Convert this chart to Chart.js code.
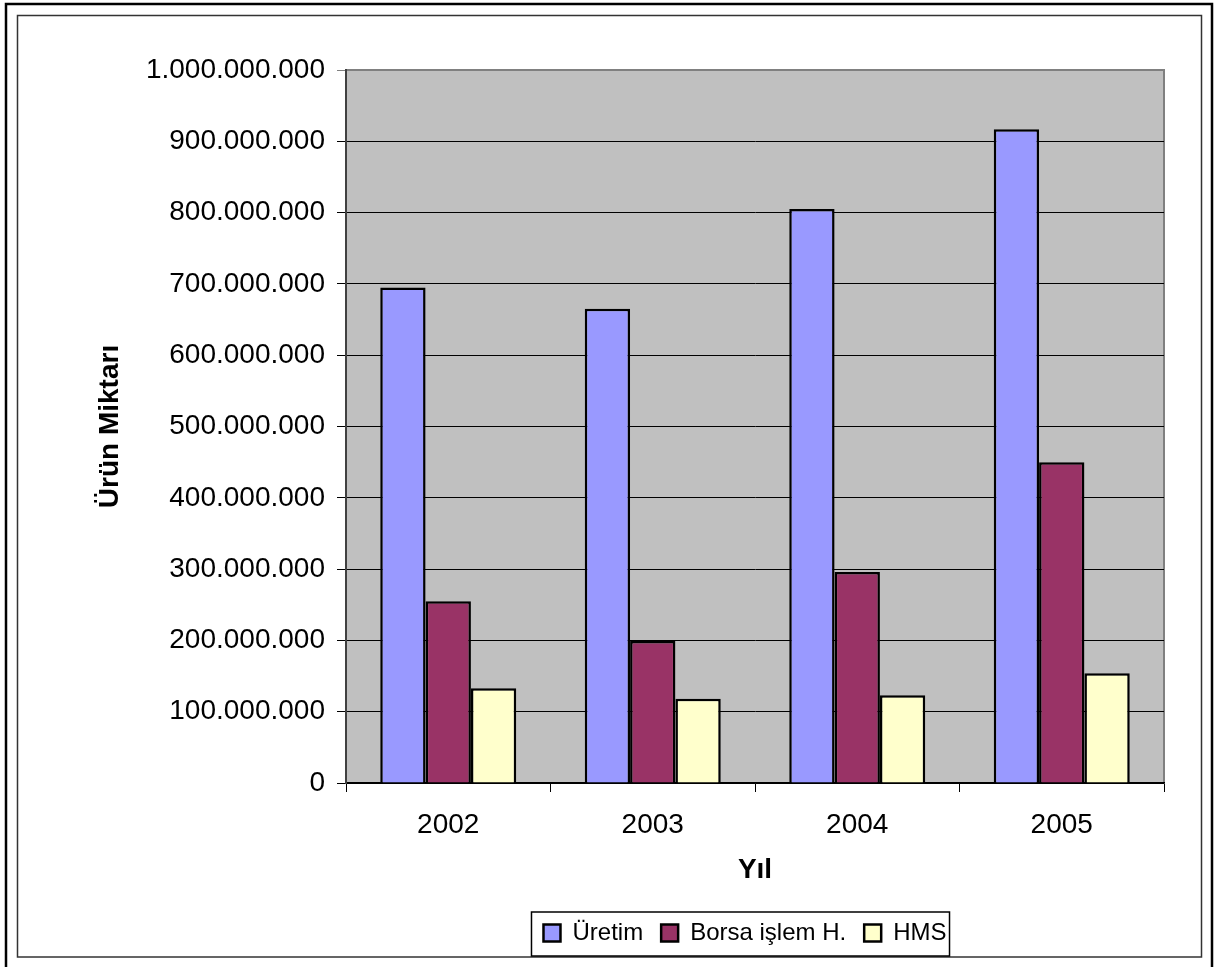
<!DOCTYPE html>
<html>
<head>
<meta charset="utf-8">
<script src="https://cdn.jsdelivr.net/npm/chart.js@4/dist/chart.umd.min.js"></script>
<style>
  html, body { margin: 0; padding: 0; background: #fff; }
  canvas { display: block; }
</style>
</head>
<body>
<canvas id="c" width="1218" height="967"></canvas>
<script>
/* Yıllara göre ürün miktarı — Üretim / Borsa işlem H. / HMS */
const years = ["2002", "2003", "2004", "2005"];
const uretim = [695000000, 665000000, 805000000, 917000000];
const borsa = [255000000, 199000000, 296000000, 450000000];
const hms = [133000000, 118000000, 123000000, 154000000];
const yMax = 1000000000;
const yStep = 100000000;

const FONT = "'Liberation Sans', Arial, sans-serif";
Chart.defaults.font.family = FONT;
Chart.defaults.color = "#000";

// 1.000.000.000 gibi nokta ile binlik ayırma
const fmt = (v) => String(Math.round(v)).replace(/\B(?=(\d{3})+(?!\d))/g, ".");

// çerçeveler, gri çizim alanı, lejant kutusu
const frame = {
  id: "frame",
  beforeDraw(chart) {
    const { ctx, chartArea: a } = chart;
    ctx.save();
    ctx.fillStyle = "#fff";
    ctx.fillRect(0, 0, chart.width, chart.height);
    ctx.strokeStyle = "#000";
    ctx.lineWidth = 2.5;
    ctx.beginPath();
    ctx.moveTo(6, chart.height); ctx.lineTo(6, 4); ctx.lineTo(1212, 4); ctx.lineTo(1212, chart.height);
    ctx.stroke();
    ctx.strokeStyle = "#333";
    ctx.lineWidth = 1.5;
    ctx.strokeRect(17.5, 15.5, 1184, 941.5);
    ctx.fillStyle = "#c0c0c0";
    ctx.fillRect(a.left, a.top, a.right - a.left, a.bottom - a.top);
    ctx.strokeStyle = "#808080";
    ctx.lineWidth = 2;
    ctx.beginPath();
    ctx.moveTo(a.left, a.top); ctx.lineTo(a.right, a.top); ctx.lineTo(a.right, a.bottom);
    ctx.stroke();
    ctx.restore();
  },
  afterLayout(chart) {
    const lg = chart.legend, a = chart.chartArea;
    lg.left = a.left - 20; lg.right = a.right;
  },
  afterDraw(chart) {
    const hb = chart.legend.legendHitBoxes;
    if (!hb || !hb.length) return;
    const first = hb[0], last = hb[hb.length - 1];
    const { ctx } = chart;
    ctx.save();
    ctx.strokeStyle = "#000";
    ctx.lineWidth = 1.5;
    const x0 = first.left - 12, x1 = last.left + last.width + 3;
    ctx.strokeRect(x0, first.top - 9, x1 - x0, 44);
    ctx.restore();
  }
};

new Chart(document.getElementById("c"), {
  type: "bar",
  data: {
    labels: years,
    datasets: [
      { label: "Üretim", data: uretim, backgroundColor: "#9999FF", borderColor: "#000", borderWidth: 2.5 },
      { label: "Borsa işlem H.", data: borsa, backgroundColor: "#993366", borderColor: "#000", borderWidth: 2.5 },
      { label: "HMS", data: hms, backgroundColor: "#FFFFCC", borderColor: "#000", borderWidth: 2.5 },
    ],
  },
  options: {
    responsive: false,
    animation: false,
    datasets: { bar: { categoryPercentage: 0.665, barPercentage: 1.0 } },
    layout: { padding: { left: 0, top: 70, right: 54, bottom: 12 } },
    plugins: {
      tooltip: { enabled: false },
      legend: {
        position: "bottom",
        labels: { boxWidth: 17, boxHeight: 17, padding: 18, color: "#000", font: { size: 24 } },
      },
    },
    scales: {
      x: {
        grid: { display: true, drawOnChartArea: false, drawTicks: true, tickLength: 9, color: "#000", offset: true },
        border: { color: "#000", width: 1.5 },
        ticks: { padding: 16, color: "#000", font: { size: 28 } },
        title: { display: true, text: "Yıl", color: "#000", font: { size: 28, weight: "bold" }, padding: { top: 0, bottom: 16 } },
        afterFit(s) { s.height = 120; },
      },
      y: {
        min: 0, max: yMax,
        grid: {
          color: (c) => (c.tick && c.tick.value === yMax ? "#808080" : "#000"),
          lineWidth: 1, tickLength: 9,
        },
        border: { color: "#404040", width: 2 },
        ticks: { stepSize: yStep, padding: 12, color: "#000", font: { size: 28 }, callback: (v) => fmt(v) },
        title: { display: true, text: "Ürün Miktarı", color: "#000", font: { size: 28, weight: "bold" }, padding: { top: 93, bottom: 0 } },
        afterFit(s) { s.width = 346; },
      },
    },
  },
  plugins: [frame],
});
</script>
</body>
</html>
